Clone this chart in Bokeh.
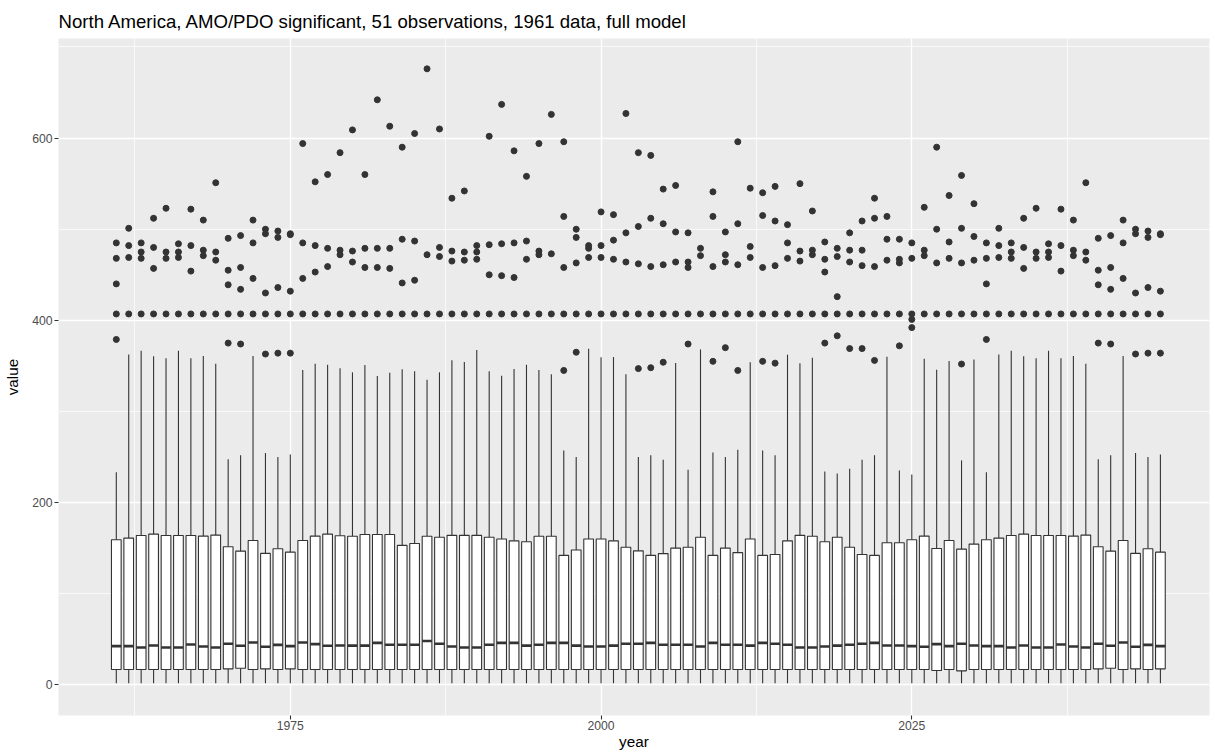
from bokeh.plotting import figure
from bokeh.models import FixedTicker, ColumnDataSource
from bokeh.embed import file_html
from bokeh.resources import INLINE

years = list(range(1961, 2046))

q3 = [159.2, 161.0, 163.9, 165.4, 163.9, 163.9, 163.9, 163.2, 164.3, 151.5,
      146.7, 158.4, 144.2, 149.3, 145.6, 158.4, 163.2, 165.4, 163.6, 163.0,
      165.0, 165.0, 165.0, 153.0, 155.0, 163.0, 162.0, 164.0, 164.0, 164.0,
      162.0, 160.0, 158.0, 157.0, 163.0, 163.0, 142.0, 148.0, 160.0, 160.0,
      158.0, 151.0, 147.0, 142.0, 144.0, 150.0, 151.0, 162.0, 142.0, 150.0,
      145.0, 160.0, 142.0, 143.0, 158.0, 164.0, 163.0, 157.0, 162.0, 151.0,
      143.0, 142.0, 155.9, 155.9, 159.2, 163.2, 149.6, 158.4, 148.9, 154.4,
      159.2, 161.0, 163.9, 165.4, 163.9, 163.9, 163.9, 163.2, 164.3, 151.5,
      146.7, 158.4, 144.2, 149.3, 145.6]

median = [42.4, 42.4, 41.0, 43.1, 41.0, 41.0, 44.2, 42.0, 41.0, 45.0,
          42.8, 46.4, 41.7, 43.8, 42.4, 46.4, 44.6, 42.8, 43.1, 43.0,
          43.0, 46.0, 44.0, 44.0, 44.0, 48.0, 45.0, 42.0, 41.0, 41.0,
          44.0, 46.0, 46.0, 43.0, 44.0, 46.0, 46.0, 43.0, 42.0, 42.0,
          43.0, 45.0, 45.0, 46.0, 44.0, 44.0, 44.0, 42.0, 46.0, 44.0,
          44.0, 43.0, 46.0, 45.0, 44.0, 41.0, 41.0, 42.0, 43.0, 44.0,
          45.0, 46.0, 43.1, 43.1, 42.4, 41.7, 44.6, 42.4, 45.0, 43.1,
          42.4, 42.4, 41.0, 43.1, 41.0, 41.0, 44.2, 42.0, 41.0, 45.0,
          42.8, 46.4, 41.7, 43.8, 42.4]

q1 = [16.8] * 85
for i, v in {9: 17.5, 10: 18.2, 12: 17.5, 14: 17.5, 66: 15.7, 68: 15.3,
             79: 17.5, 80: 18.2, 82: 17.5, 84: 17.5}.items():
    q1[i] = v

whisker_lo = [1.8] * 85

whisker_hi = [233.4, 362.6, 366.7, 360.5, 358.3, 366.7, 358.3, 360.8, 352.4, 247.4,
              251.8, 360.8, 254.3, 249.9, 252.8, 345.4, 352.4, 351.3, 347.3, 342.9,
              350.9, 338.8, 342.6, 346.2, 344.0, 334.9, 342.9, 356.1, 354.2, 367.4,
              344.0, 339.3, 346.5, 351.3, 345.4, 340.7, 257.0, 250.0, 368.9, 359.4,
              359.7, 340.7, 250.0, 252.0, 247.0, 353.1, 236.0, 368.1, 255.0, 250.0,
              258.0, 353.9, 257.0, 252.0, 362.3, 352.8, 359.0, 234.0, 232.0, 237.0,
              247.0, 252.0, 360.1, 235.3, 230.9, 357.9, 345.8, 355.3, 246.3, 357.1,
              233.4, 362.6, 366.7, 360.5, 358.3, 366.7, 358.3, 360.8, 352.4, 247.4,
              251.8, 360.8, 254.3, 249.9, 252.8]

outliers = [
    [485, 468, 440, 407, 379], [501, 482, 469, 407], [485, 475, 468, 407],
    [512, 480, 457, 407], [523, 475, 468, 407], [484, 475, 469, 407],
    [522, 482, 454, 407], [510, 477, 471, 407], [551, 475, 466, 407],
    [490, 455, 439, 407, 375], [493, 458, 434, 407, 374], [510, 485, 446, 407],
    [500, 495, 430, 407, 363], [498, 491, 436, 407, 364], [495, 494, 432, 407, 364],
    [594, 485, 446, 407], [552, 482, 453, 407], [560, 479, 459, 407],
    [584, 477, 472, 407], [609, 476, 464, 407], [560, 479, 458, 407],
    [642, 479, 458, 407], [613, 479, 457, 407], [590, 489, 441, 407],
    [605, 487, 444, 407], [676, 472, 407], [610, 480, 470, 407],
    [534, 476, 465, 407], [542, 475, 466, 407], [482, 475, 467, 407],
    [602, 483, 450, 407], [637, 484, 449, 407], [586, 485, 447, 407],
    [558, 487, 467, 407], [594, 476, 472, 407], [626, 473, 407],
    [596, 514, 458, 407, 345], [500, 491, 463, 407, 365], [482, 479, 469, 407],
    [519, 482, 469, 407], [516, 488, 467, 407], [627, 496, 464, 407],
    [584, 503, 462, 407, 347], [581, 512, 459, 407, 348], [544, 506, 461, 407, 354],
    [548, 497, 464, 407], [496, 464, 458, 407, 374], [479, 471, 407],
    [541, 514, 459, 407, 355], [497, 472, 464, 407, 370], [596, 506, 461, 407, 345],
    [545, 481, 469, 407], [540, 515, 458, 407, 355], [547, 509, 460, 407, 353],
    [505, 485, 468, 407], [550, 476, 465, 407], [520, 477, 472, 407],
    [486, 467, 453, 407, 375], [479, 470, 426, 407, 383], [496, 477, 464, 407, 369],
    [509, 477, 460, 407, 369], [534, 512, 459, 407, 356], [514, 489, 466, 407],
    [489, 467, 463, 407, 372], [485, 468, 407, 401, 392], [524, 477, 471, 407],
    [590, 500, 463, 407], [537, 486, 468, 407], [559, 501, 463, 407, 352],
    [528, 492, 466, 407],
    [485, 468, 440, 407, 379], [501, 482, 469, 407], [485, 475, 468, 407],
    [512, 480, 457, 407], [523, 475, 468, 407], [484, 475, 469, 407],
    [522, 482, 454, 407], [510, 477, 471, 407], [551, 475, 466, 407],
    [490, 455, 439, 407, 375], [493, 458, 434, 407, 374], [510, 485, 446, 407],
    [500, 495, 430, 407, 363], [498, 491, 436, 407, 364], [495, 494, 432, 407, 364],
]

x_ticks = [1975, 2000, 2025]
y_ticks = [0, 200, 400, 600]

INK = "#333333"
FONT = "Liberation Sans"

p = figure(width=1215, height=753, output_backend="svg", toolbar_location=None,
           x_range=(1956.35, 2048.95), y_range=(-33.7, 709.3),
           title="North America, AMO/PDO significant, 51 observations, 1961 data, full model",
           min_border_left=58, min_border_right=6, min_border_top=38, min_border_bottom=38)

p.background_fill_color = "#EBEBEB"
p.border_fill_color = "white"
p.outline_line_color = None

p.title.text_font = FONT
p.title.text_font_size = "18.6px"
p.title.text_font_style = "normal"
p.title.text_color = "black"
p.title.align = "left"
p.title.offset = 0
p.title.standoff = 14

p.xaxis.ticker = FixedTicker(ticks=x_ticks, minor_ticks=[1962.5, 1987.5, 2012.5, 2037.5])
p.yaxis.ticker = FixedTicker(ticks=y_ticks, minor_ticks=[100, 300, 500, 700])

for grid in (p.xgrid, p.ygrid):
    grid.grid_line_color = "white"
    grid.grid_line_width = 1.4
    grid.minor_grid_line_color = "white"
    grid.minor_grid_line_width = 0.7

for ax in (p.xaxis, p.yaxis):
    ax.axis_line_color = None
    ax.major_tick_line_color = INK
    ax.major_tick_line_width = 1.1
    ax.major_tick_out = 4
    ax.major_tick_in = 0
    ax.minor_tick_line_color = None
    ax.major_label_text_font = FONT
    ax.major_label_text_font_size = "12.2px"
    ax.major_label_text_color = "#4D4D4D"
    ax.axis_label_text_font = FONT
    ax.axis_label_text_font_size = "15.3px"
    ax.axis_label_text_font_style = "normal"
    ax.axis_label_text_color = "black"

p.xaxis.major_label_standoff = 1
p.yaxis.major_label_standoff = 2
p.xaxis.axis_label = "year"
p.yaxis.axis_label = "value"
p.xaxis.axis_label_standoff = 0
p.yaxis.axis_label_standoff = 8

src = ColumnDataSource(dict(year=years, q1=q1, median=median, q3=q3,
                            lo=whisker_lo, hi=whisker_hi))

# whiskers
p.segment(x0="year", y0="q3", x1="year", y1="hi", source=src, line_color=INK, line_width=1.1)
p.segment(x0="year", y0="lo", x1="year", y1="q1", source=src, line_color=INK, line_width=1.1)

# boxes
box_w = 0.78
p.vbar(x="year", bottom="q1", top="q3", width=box_w, source=src,
       fill_color="white", line_color=INK, line_width=1.1)

# medians
p.segment(x0=[y - box_w / 2 for y in years], y0=median,
          x1=[y + box_w / 2 for y in years], y1=median,
          line_color=INK, line_width=2.6)

# outliers
ox, oy = [], []
for yr, vals in zip(years, outliers):
    for v in vals:
        ox.append(yr)
        oy.append(v)
p.scatter(ox, oy, size=6, fill_color=INK, line_color=INK)

open("out.html", "w").write(file_html(p, INLINE))
